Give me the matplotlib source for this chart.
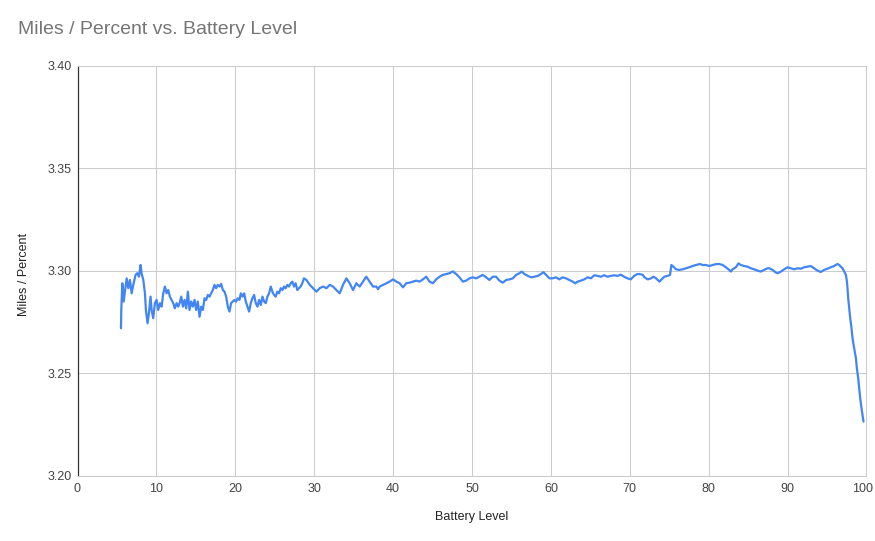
import matplotlib
matplotlib.use("Agg")
import matplotlib.pyplot as plt
import matplotlib.transforms as mtransforms
from matplotlib.ticker import FormatStrFormatter

plt.rcParams['font.family'] = ['Liberation Sans', 'DejaVu Sans']

title = "Miles / Percent vs. Battery Level"
x_label = "Battery Level"
y_label = "Miles / Percent"
x_ticks = [0, 10, 20, 30, 40, 50, 60, 70, 80, 90, 100]
y_ticks = [3.20, 3.25, 3.30, 3.35, 3.40]

battery_level = [
    5.51, 5.55, 5.68, 5.85, 6.01, 6.23, 6.44, 6.65, 6.86, 7.07, 7.36, 7.58, 7.79, 8.00, 8.12, 8.34,
    8.55, 8.67, 8.88, 9.05, 9.26, 9.39, 9.60, 9.81, 10.02, 10.23, 10.45, 10.66, 10.87, 11.08, 11.29,
    11.50, 11.71, 11.92, 12.13, 12.34, 12.56, 12.77,
    12.94, 13.15, 13.36, 13.57, 13.78, 13.99, 14.20, 14.41, 14.62, 14.83, 15.04, 15.25, 15.47, 15.68,
    15.89, 16.10, 16.31, 16.52, 16.73, 16.94, 17.15, 17.36, 17.57, 17.78, 18.00, 18.21, 18.42, 18.63,
    18.84, 19.05, 19.26, 19.47, 19.68, 19.89, 20.10, 20.31, 20.53,
    20.70, 20.91, 21.12, 21.33, 21.54, 21.75, 21.96, 22.17, 22.38, 22.60, 22.81, 23.02, 23.23, 23.44,
    23.65, 23.86, 24.07, 24.28, 24.49, 24.70, 24.91, 25.12, 25.33, 25.54, 25.76, 25.97, 26.18, 26.39,
    26.60, 26.81, 27.02, 27.23, 27.44, 27.65, 27.86, 28.07, 28.28, 28.49, 28.70,
    29.02, 29.44, 29.86, 30.28, 30.70, 31.12, 31.55, 31.97, 32.39, 32.81, 33.23, 33.65, 34.08, 34.50,
    34.92, 35.34, 35.76, 36.18, 36.60, 37.03, 37.45,
    37.88, 38.09, 38.30, 38.72, 39.14, 39.56, 39.99, 40.41, 40.83, 41.25, 41.67, 42.09, 42.51, 42.94,
    43.36, 43.78, 44.20, 44.62, 45.04, 45.46, 45.89, 46.31, 46.73, 47.15, 47.57, 47.99, 48.41, 48.84,
    49.26, 49.68, 50.10, 50.52, 50.94, 51.36, 51.79, 52.21, 52.63, 53.05, 53.47, 53.89,
    54.33, 54.76, 55.18, 55.60, 56.02, 56.31, 56.65, 57.07, 57.49, 57.91, 58.33, 58.75, 59.05, 59.39,
    59.81, 60.23, 60.65, 61.07, 61.49, 61.91, 62.34, 62.76, 63.09, 63.39, 63.81, 64.23, 64.65, 65.07,
    65.49, 65.91, 66.34, 66.76, 67.18, 67.60, 68.02, 68.44, 68.86, 69.28, 69.70, 70.12, 70.55, 70.97,
    71.22, 71.64, 71.85, 72.27, 72.69, 72.99, 73.33, 73.75, 73.96, 74.38, 74.80, 75.10, 75.27, 75.52,
    75.86, 76.28, 76.70, 77.12, 77.54, 77.96, 78.38, 78.89, 79.23, 79.65, 80.07, 80.49, 80.91, 81.33,
    81.76, 82.18, 82.60, 82.81, 83.02, 83.44, 83.78, 84.07, 84.49, 84.92, 85.34, 85.76, 86.18, 86.60,
    87.02, 87.44,
    87.68, 88.10, 88.52, 88.73, 89.15, 89.57, 89.99, 90.41, 90.83, 91.26, 91.68, 92.10, 92.52, 92.94,
    93.36, 93.78, 94.20, 94.62, 95.04, 95.47, 95.89, 96.31,
    96.54, 96.76, 96.96, 97.18, 97.39, 97.52, 97.59, 97.68, 97.81, 97.94, 98.10, 98.23, 98.44, 98.66,
    98.78, 98.95, 99.07, 99.20, 99.37, 99.62,
]

miles_per_percent = [
    3.2720, 3.2809, 3.2939, 3.2850, 3.2898, 3.2963, 3.2915, 3.2955, 3.2890, 3.2931, 3.2980, 3.2988,
    3.2971, 3.3028, 3.2988, 3.2955, 3.2890, 3.2809, 3.2744, 3.2793, 3.2874, 3.2809, 3.2769, 3.2842,
    3.2858, 3.2809, 3.2842, 3.2825, 3.2890, 3.2923, 3.2890, 3.2906, 3.2874, 3.2858, 3.2842, 3.2817,
    3.2842, 3.2825,
    3.2842, 3.2874, 3.2825, 3.2858, 3.2817, 3.2898, 3.2809, 3.2850, 3.2825, 3.2858, 3.2809, 3.2850,
    3.2776, 3.2825, 3.2809, 3.2866, 3.2858, 3.2882, 3.2874, 3.2890, 3.2906, 3.2931, 3.2915, 3.2931,
    3.2923, 3.2936, 3.2906, 3.2898, 3.2874, 3.2825, 3.2801, 3.2842, 3.2850, 3.2858, 3.2850, 3.2866,
    3.2858,
    3.2890, 3.2874, 3.2890, 3.2850, 3.2825, 3.2801, 3.2842, 3.2866, 3.2882, 3.2842, 3.2825, 3.2858,
    3.2833, 3.2874, 3.2850, 3.2842, 3.2874, 3.2890, 3.2923, 3.2898, 3.2882, 3.2874, 3.2898, 3.2890,
    3.2915, 3.2906, 3.2923, 3.2915, 3.2931, 3.2923, 3.2939, 3.2947, 3.2923, 3.2939, 3.2906, 3.2915,
    3.2923, 3.2939, 3.2963,
    3.2955, 3.2931, 3.2915, 3.2898, 3.2915, 3.2923, 3.2915, 3.2931, 3.2923, 3.2906, 3.2890, 3.2931,
    3.2963, 3.2939, 3.2906, 3.2939, 3.2923, 3.2947, 3.2971, 3.2947, 3.2923,
    3.2923, 3.2910, 3.2923, 3.2931, 3.2939, 3.2947, 3.2958, 3.2947, 3.2939, 3.2919, 3.2939, 3.2942,
    3.2947, 3.2952, 3.2947, 3.2958, 3.2971, 3.2947, 3.2939, 3.2958, 3.2971, 3.2980, 3.2984, 3.2988,
    3.2997, 3.2984, 3.2968, 3.2947, 3.2952, 3.2963, 3.2968, 3.2963, 3.2971, 3.2980, 3.2968, 3.2955,
    3.2971, 3.2971, 3.2952, 3.2942,
    3.2955, 3.2958, 3.2963, 3.2980, 3.2988, 3.2996, 3.2984, 3.2975, 3.2968, 3.2971, 3.2975, 3.2984,
    3.2993, 3.2980, 3.2963, 3.2963, 3.2968, 3.2958, 3.2968, 3.2963, 3.2955, 3.2947, 3.2939, 3.2947,
    3.2952, 3.2958, 3.2968, 3.2963, 3.2978, 3.2975, 3.2971, 3.2978, 3.2971, 3.2975, 3.2978, 3.2975,
    3.2981, 3.2971, 3.2963, 3.2958, 3.2975, 3.2984,
    3.2984, 3.2980, 3.2968, 3.2958, 3.2963, 3.2971, 3.2963, 3.2947, 3.2955, 3.2971, 3.2975, 3.2980,
    3.3028, 3.3020, 3.3007, 3.3004, 3.3007, 3.3012, 3.3017, 3.3023, 3.3028, 3.3033, 3.3028, 3.3028,
    3.3023, 3.3028, 3.3032, 3.3033, 3.3028, 3.3017, 3.3004, 3.2996, 3.3007, 3.3017, 3.3036, 3.3028,
    3.3023, 3.3020, 3.3012, 3.3007, 3.3001, 3.2996, 3.3004, 3.3012,
    3.3012, 3.3004, 3.2991, 3.2988, 3.2996, 3.3007, 3.3017, 3.3012, 3.3007, 3.3012, 3.3010, 3.3017,
    3.3020, 3.3023, 3.3012, 3.3001, 3.2994, 3.3004, 3.3010, 3.3017, 3.3023, 3.3033,
    3.3028, 3.3020, 3.3012, 3.2996, 3.2980, 3.2947, 3.2915, 3.2866, 3.2817, 3.2768, 3.2720, 3.2671,
    3.2622, 3.2574, 3.2525, 3.2476, 3.2428, 3.2379, 3.2330, 3.2265,
]

W, H = 875, 541
fig = plt.figure(figsize=(W / 100, H / 100), dpi=100)
left, right, top, bottom = 77.5, 866.5, 65.5, 476.0
ax = fig.add_axes([left / W, 1 - bottom / H, (right - left) / W, (bottom - top) / H])

ax.plot(battery_level, miles_per_percent, color='#4285F4', lw=1.6,
        solid_joinstyle='round', solid_capstyle='round', zorder=3)

ax.set_xlim(0, 100)
ax.set_ylim(3.20, 3.40)
ax.set_xticks(x_ticks)
ax.set_yticks(y_ticks)
ax.yaxis.set_major_formatter(FormatStrFormatter('%.2f'))
ax.grid(True, color='#cccccc', lw=0.75, zorder=0)
ax.set_axisbelow(True)
ax.tick_params(axis='both', length=0, labelsize=9, colors='#444444')
ax.tick_params(axis='y', pad=4)
ax.tick_params(axis='x', pad=5)
for side in ['top', 'right', 'bottom']:
    ax.spines[side].set_color('#cccccc')
    ax.spines[side].set_linewidth(0.75)
ax.spines['left'].set_color('#333333')
ax.spines['left'].set_linewidth(0.9)

# keep the last x tick label ("100") inside the canvas, as in the reference
last_label = ax.get_xticklabels()[-1]
last_label.set_transform(last_label.get_transform() +
                         mtransforms.ScaledTranslation(-3.5 / 100, 0, fig.dpi_scale_trans))

fig.text(18 / W, 1 - 30 / H, title, fontsize=14, color='#757575', ha='left', va='center')
fig.text(472 / W, 1 - 517 / H, x_label, fontsize=9, color='#222222', ha='center', va='center')
fig.text(24 / W, 1 - 274 / H, y_label, fontsize=9, color='#222222', ha='center', va='center',
         rotation=90)

fig.savefig('out.png', dpi=100)
